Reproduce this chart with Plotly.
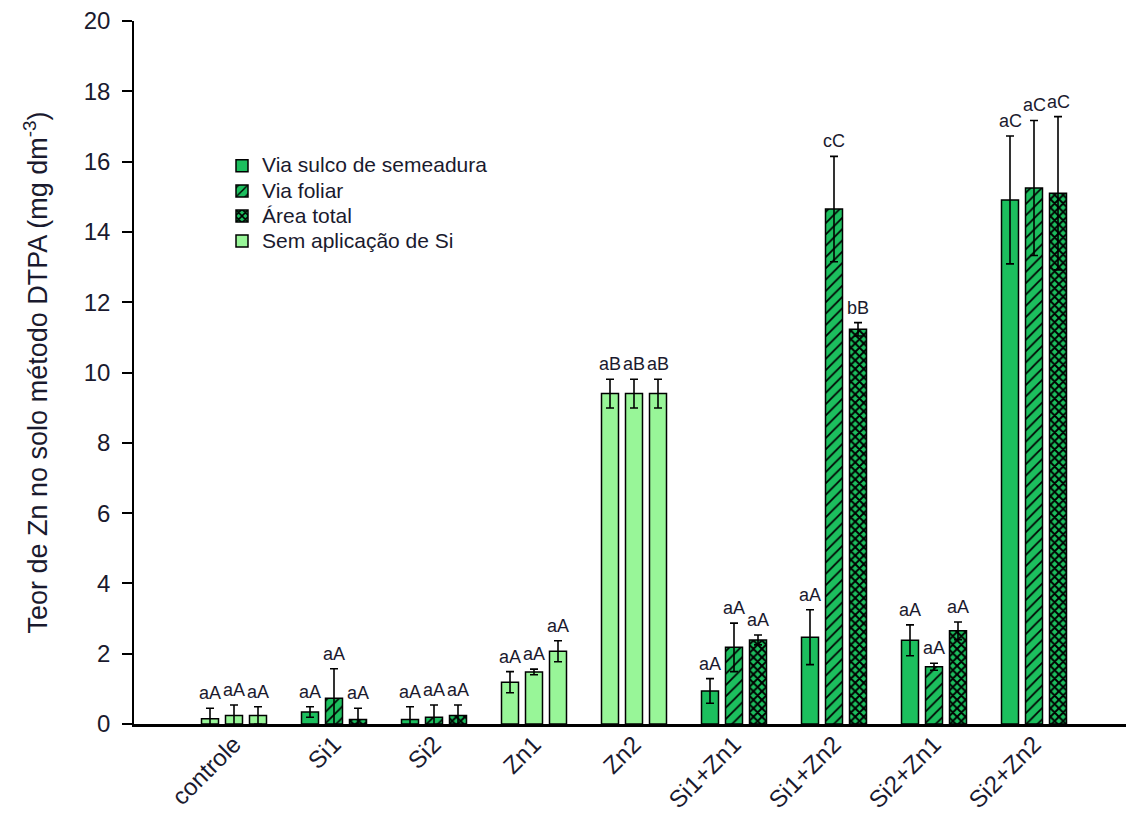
import plotly.graph_objects as go

categories = ["controle", "Si1", "Si2", "Zn1", "Zn2", "Si1+Zn1", "Si1+Zn2", "Si2+Zn1", "Si2+Zn2"]
# which categories received Si (patterned series) vs. no Si (light green)
with_si = [False, True, True, False, False, True, True, True, True]

slot1_vals = [0.15, 0.34, 0.13, 1.19, 9.40, 0.94, 2.47, 2.38, 14.91]
slot1_err = [0.30, 0.15, 0.36, 0.30, 0.41, 0.35, 0.78, 0.44, 1.82]
slot1_lab = ["aA", "aA", "aA", "aA", "aB", "aA", "aA", "aA", "aC"]

slot2_vals = [0.24, 0.73, 0.19, 1.48, 9.40, 2.18, 14.65, 1.63, 15.25]
slot2_err = [0.30, 0.84, 0.35, 0.08, 0.41, 0.69, 1.50, 0.10, 1.92]
slot2_lab = ["aA", "aA", "aA", "aA", "aB", "aA", "cC", "aA", "aC"]

slot3_vals = [0.24, 0.13, 0.24, 2.07, 9.40, 2.39, 11.23, 2.65, 15.10]
slot3_err = [0.25, 0.32, 0.30, 0.30, 0.41, 0.14, 0.19, 0.25, 2.18]
slot3_lab = ["aA", "aA", "aA", "aA", "aB", "aA", "bB", "aA", "aC"]

series_names = ["Via sulco de semeadura", "Via foliar", "Área total"]
no_si_name = "Sem aplicação de Si"

GREEN = "#1CBF5E"
LIGHT = "#98F698"
TXT = "#1a1a2e"
FONT = "Arial, Liberation Sans, sans-serif"
slot_offsets = [-0.24, 0.0, 0.24]
bar_w = 0.17

slots = [
    (slot1_vals, slot1_err, slot1_lab),
    (slot2_vals, slot2_err, slot2_lab),
    (slot3_vals, slot3_err, slot3_lab),
]
patterns = [
    dict(shape=""),
    dict(shape="/", fgcolor="black", bgcolor=GREEN, size=8, solidity=0.22, fillmode="replace"),
    dict(shape="x", fgcolor="black", bgcolor=GREEN, size=6, solidity=0.55, fillmode="replace"),
]


def legend_label(s):
    return '<span style="font-size:21px">' + s + "</span>"


fig = go.Figure()


def err_style(arr):
    return dict(type="data", array=arr, symmetric=True, color="black", thickness=1.6, width=4)


# patterned series (with Si)
for k, (vals, errs, labs) in enumerate(slots):
    idx = [i for i in range(len(categories)) if with_si[i]]
    fig.add_trace(go.Bar(
        name=legend_label(series_names[k]),
        x=[i + slot_offsets[k] for i in idx],
        y=[vals[i] for i in idx],
        width=bar_w,
        marker=dict(color=GREEN, line=dict(color="black", width=1.5), pattern=patterns[k]),
        error_y=err_style([errs[i] for i in idx]),
        legendrank=k + 1,
    ))

# no-Si series (light green), three bars per group
for k, (vals, errs, labs) in enumerate(slots):
    idx = [i for i in range(len(categories)) if not with_si[i]]
    fig.add_trace(go.Bar(
        name=legend_label(no_si_name),
        legendgroup="nosi",
        showlegend=(k == 0),
        x=[i + slot_offsets[k] for i in idx],
        y=[vals[i] for i in idx],
        width=bar_w,
        marker=dict(color=LIGHT, line=dict(color="black", width=1.5)),
        error_y=err_style([errs[i] for i in idx]),
        legendrank=4,
    ))

# letter labels
for k, (vals, errs, labs) in enumerate(slots):
    for i in range(len(categories)):
        fig.add_annotation(
            x=i + slot_offsets[k], y=vals[i] + errs[i], text=labs[i],
            showarrow=False, yanchor="bottom", yshift=3,
            font=dict(family=FONT, size=18, color=TXT),
        )

fig.update_layout(
    width=1134, height=816,
    barmode="overlay",
    plot_bgcolor="white", paper_bgcolor="white",
    margin=dict(l=126, r=8, t=13, b=100),
    font=dict(family=FONT, color="black"),
    showlegend=True,
    legend=dict(
        x=0.088, y=0.819, xanchor="left", yanchor="top",
        font=dict(size=17, color=TXT),
        bgcolor="rgba(0,0,0,0)", tracegroupgap=0, traceorder="normal",
    ),
    xaxis=dict(
        range=[-1, 9], tickmode="array", tickvals=list(range(len(categories))),
        ticktext=categories, tickangle=-45, ticks="", showgrid=False, zeroline=False,
        showline=True, linecolor="black", linewidth=2.5,
        tickfont=dict(size=24, color=TXT), automargin=False,
        ticklabeloverflow="allow", ticklabelstandoff=-6,
    ),
    yaxis=dict(
        range=[0, 20], tickmode="array", tickvals=list(range(0, 21, 2)),
        ticks="outside", ticklen=10, tickwidth=1.5, tickcolor="black",
        showline=True, linecolor="black", linewidth=1.5,
        showgrid=False, zeroline=False,
        tickfont=dict(size=24, color=TXT), automargin=False,
        ticklabeloverflow="allow", ticklabelstandoff=7,
        title=dict(text="Teor de Zn no solo método DTPA (mg dm<sup>-3</sup>)",
                   font=dict(size=27, color=TXT), standoff=28),
    ),
)

fig.write_html("out.html")
